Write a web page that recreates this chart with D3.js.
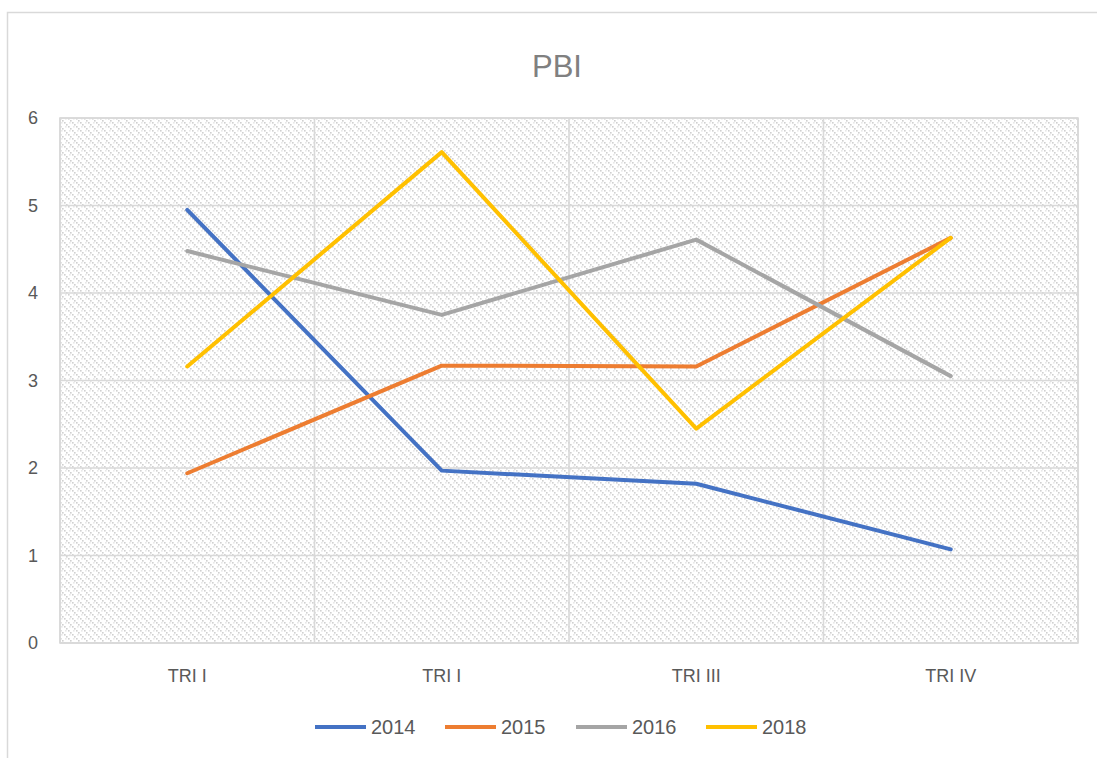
<!DOCTYPE html>
<html>
<head>
<meta charset="utf-8">
<script src="https://cdn.jsdelivr.net/npm/d3@7"></script>
<style>
  body { margin: 0; background: #fff; }
  text { font-family: "Liberation Sans", Arial, sans-serif; }
</style>
</head>
<body>
<div id="chart"></div>
<script>
// data
const categories = ["TRI I", "TRI I ", "TRI III", "TRI IV"];
const years = ["2014", "2015", "2016", "2018"];
const v2014 = [4.95, 1.97, 1.82, 1.07];
const v2015 = [1.94, 3.17, 3.16, 4.63];
const v2016 = [4.48, 3.75, 4.61, 3.05];
const v2018 = [3.16, 5.61, 2.45, 4.63];
const yTicks = [0, 1, 2, 3, 4, 5, 6];
const colors = ["#4472C4", "#ED7D31", "#A5A5A5", "#FFC000"];

const series = [v2014, v2015, v2016, v2018].map((vals, i) => ({
  name: years[i], color: colors[i],
  values: vals.map((v, j) => ({cat: categories[j], v: v}))
}));

const W = 1097, H = 758;
const margin = {top: 118, right: 19, bottom: 115, left: 60};
const width = W - margin.left - margin.right,
      height = H - margin.top - margin.bottom;

const svg = d3.select("#chart").append("svg")
    .attr("width", W).attr("height", H);

// hatch pattern for plot area
const pat = svg.append("defs").append("pattern")
    .attr("id", "hatch").attr("patternUnits", "userSpaceOnUse")
    .attr("width", 8).attr("height", 8);
pat.append("rect").attr("width", 8).attr("height", 8).attr("fill", "#fff");
[[0, 0], [2, 2], [4, 4], [6, 6], [5, 0], [1, 4]].forEach((p, i) => {
  pat.append("rect").attr("x", p[0]).attr("y", p[1])
    .attr("width", 1.6).attr("height", 1.6)
    .attr("fill", i < 4 ? "#d0d0d0" : "#e8e8e8");
});

// outer chart border
svg.append("rect")
    .attr("x", 7.5).attr("y", 12.5).attr("width", W).attr("height", H)
    .attr("fill", "none").attr("stroke", "#d9d9d9").attr("stroke-width", 1.5);

svg.append("text")
    .attr("x", 557).attr("y", 77)
    .attr("text-anchor", "middle")
    .attr("fill", "#808080").style("font-size", "31px")
    .text("PBI");

const g = svg.append("g")
    .attr("transform", `translate(${margin.left},${margin.top})`);

const x = d3.scaleBand().domain(categories).range([0, width]);
const y = d3.scaleLinear().domain([0, 6]).range([height, 0]);

g.append("rect")
    .attr("width", width).attr("height", height)
    .attr("fill", "url(#hatch)");

// gridlines
g.append("g").selectAll("line").data(yTicks).join("line")
    .attr("x1", 0).attr("x2", width)
    .attr("y1", d => y(d)).attr("y2", d => y(d))
    .attr("stroke", "#d9d9d9").attr("stroke-width", 1.6);
g.append("g").selectAll("line").data(categories.concat([null])).join("line")
    .attr("x1", (d, i) => i * x.step()).attr("x2", (d, i) => i * x.step())
    .attr("y1", 0).attr("y2", height)
    .attr("stroke", "#d9d9d9").attr("stroke-width", 1.6);
g.append("rect")
    .attr("width", width).attr("height", height)
    .attr("fill", "none").attr("stroke", "#d9d9d9").attr("stroke-width", 1.6);

// axes
const axisY = g.append("g")
    .attr("transform", "translate(-22,0)")
    .call(d3.axisLeft(y).tickValues(yTicks).tickFormat(d3.format("d")).tickSize(0).tickPadding(0));
const axisX = g.append("g")
    .attr("transform", `translate(0,${height})`)
    .call(d3.axisBottom(x).tickSize(0).tickPadding(26));
[axisY, axisX].forEach(a => {
  a.select(".domain").remove();
  a.selectAll("text").attr("fill", "#595959").style("font-size", "18px")
    .style("font-family", "'Liberation Sans', Arial, sans-serif");
});

const line = d3.line()
    .x(d => x(d.cat) + x.bandwidth() / 2)
    .y(d => y(d.v));

g.selectAll(".series").data(series).join("path")
    .attr("class", "series")
    .attr("d", d => line(d.values))
    .attr("fill", "none")
    .attr("stroke", d => d.color)
    .attr("stroke-width", 4)
    .attr("stroke-linejoin", "round")
    .attr("stroke-linecap", "round");

// legend
const legendX = [315, 445, 576, 706];
const leg = svg.append("g").selectAll("g").data(series).join("g")
    .attr("transform", (d, i) => `translate(${legendX[i]},727)`);
leg.append("line")
    .attr("x1", 0).attr("x2", 51)
    .attr("stroke", d => d.color).attr("stroke-width", 4);
leg.append("text")
    .attr("x", 56).attr("y", 7)
    .attr("fill", "#595959").style("font-size", "20px")
    .text(d => d.name);
</script>
</body>
</html>
